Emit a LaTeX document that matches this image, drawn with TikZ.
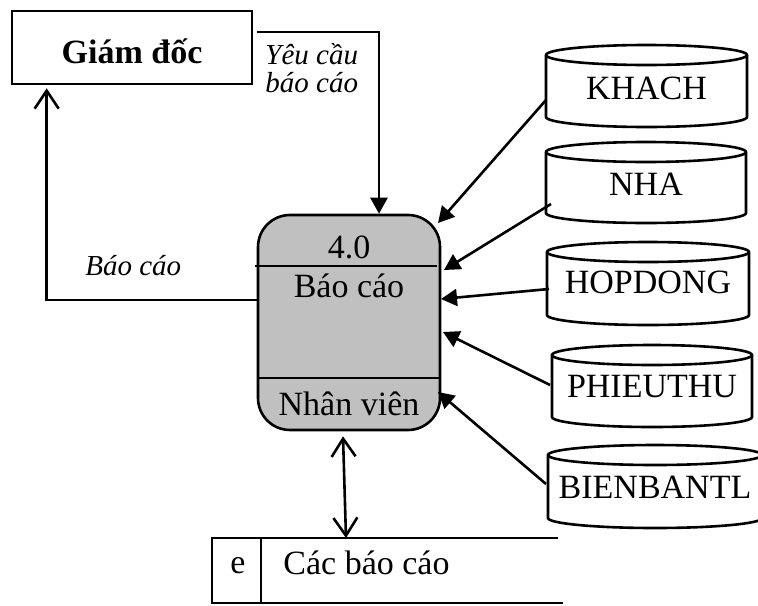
\documentclass[tikz,border=0pt]{standalone}
\usepackage{fontspec}
\setmainfont{Liberation Serif}
\usetikzlibrary{arrows.meta,calc}

\tikzset{
  line/.style={line width=1.3pt},
  flow/.style={line, -{Triangle[length=8pt,width=8.5pt]}},
  openflow/.style={line, -{Straight Barb[length=9pt,width=12pt,line width=1.3pt]}},
  bothflow/.style={line, {Straight Barb[length=9pt,width=12pt,line width=1.3pt]}-{Straight Barb[length=9pt,width=12pt,line width=1.3pt]}},
  lbl/.style={font=\fontsize{14.5}{17}\selectfont\itshape, inner sep=0pt, anchor=base west},
  txt/.style={font=\fontsize{17}{20}\selectfont, inner sep=0pt, anchor=base},
  procbox/.style={draw, line, fill=procgray, rounded corners=16pt,
    minimum width=91pt, minimum height=107.5pt, inner sep=0pt},
}
\definecolor{procgray}{HTML}{C0C0C0}

% data store drawn as an upright cylinder: name, left, top, right, bottom, text baseline, text
\newcommand\cylstore[7]{%
  \draw[line, fill=white] (#2,{-(#3)-10}) -- (#2,{-(#5)+10})
    arc[start angle=180, end angle=360, x radius={(#4-#2)/2}, y radius=10]
    -- (#4,{-(#3)-10})
    arc[start angle=0, end angle=180, x radius={(#4-#2)/2}, y radius=10] -- cycle;
  \draw[line] (#2,{-(#3)-10})
    arc[start angle=180, end angle=360, x radius={(#4-#2)/2}, y radius=10];
  \node[txt] (#1) at ({(#2+#4)/2},-#6) {#7};
}

\begin{document}
\begin{tikzpicture}[x=0.5pt,y=0.5pt]
\useasboundingbox (0,0) rectangle (758,-605);

% external entity
\node[draw, line, minimum width=120pt, minimum height=36.5pt, inner sep=0pt] (gd) at (132,-47.5) {};
\node[txt, font=\fontsize{17}{20}\selectfont\bfseries] (gdtext) at (132,-63) {Giám đốc};

% process
\node[procbox] (proc) at (349,-322.5) {};
\draw[line] (255,-266) -- (437,-266);
\draw[line] (258,-378) -- (440,-378);
\node[txt] (pid) at (349,-258) {4.0};
\node[txt] (pname) at (349,-297) {Báo cáo};
\node[txt] (pactor) at (349,-415) {Nhân viên};

% data stores
\cylstore{khach}{546}{45}{747}{127}{99}{KHACH}
\cylstore{nha}{546}{142}{746}{223}{195}{NHA}
\cylstore{hopdong}{547}{242}{749}{325}{293}{HOPDONG}
\cylstore{phieuthu}{552}{345}{752}{427}{397}{PHIEUTHU}
\cylstore{bienban}{548}{445}{762}{528}{498}{BIENBANTL}

% report file
\draw[line] (558,-538) -- (212,-538) -- (212,-603) -- (563,-603);
\draw[line] (261,-538) -- (261,-603);
\node[txt] (fid) at (238,-573) {e};
\node[txt, anchor=base west] (fname) at (283,-574) {Các báo cáo};
\coordinate (ftop) at (346,-538);

% connector end points
\coordinate (yc) at (257,-32);
\coordinate (k-out) at (546,-100);
\coordinate (n-out) at (551,-204);
\coordinate (h-out) at (549,-289);
\coordinate (p-out) at (550,-385);
\coordinate (b-out) at (546,-484);
\coordinate (k-in) at (438,-223);
\coordinate (n-in) at (444,-270);
\coordinate (h-in) at (441,-299);
\coordinate (p-in) at (443,-332);
\coordinate (b-in) at (438,-392);

% flows
\draw[flow] (yc) -| ([xshift=15pt]proc.north);
\node[lbl] (lyc1) at (265,-64) {Yêu cầu};
\node[lbl] (lyc2) at (265,-92) {báo cáo};

\draw[openflow] ([yshift=11.25pt]proc.west) -| ($(gd.south west)+(18pt,-1.5pt)$);
\node[lbl] (lbc) at (85,-275) {Báo cáo};

\draw[flow] (k-out) -- (k-in);
\draw[flow] (n-out) -- (n-in);
\draw[flow] (h-out) -- (h-in);
\draw[flow] (p-out) -- (p-in);
\draw[flow] (b-out) -- (b-in);

\draw[bothflow] ([xshift=-3pt,yshift=-2.5pt]proc.south) -- (ftop);
\end{tikzpicture}
\end{document}
